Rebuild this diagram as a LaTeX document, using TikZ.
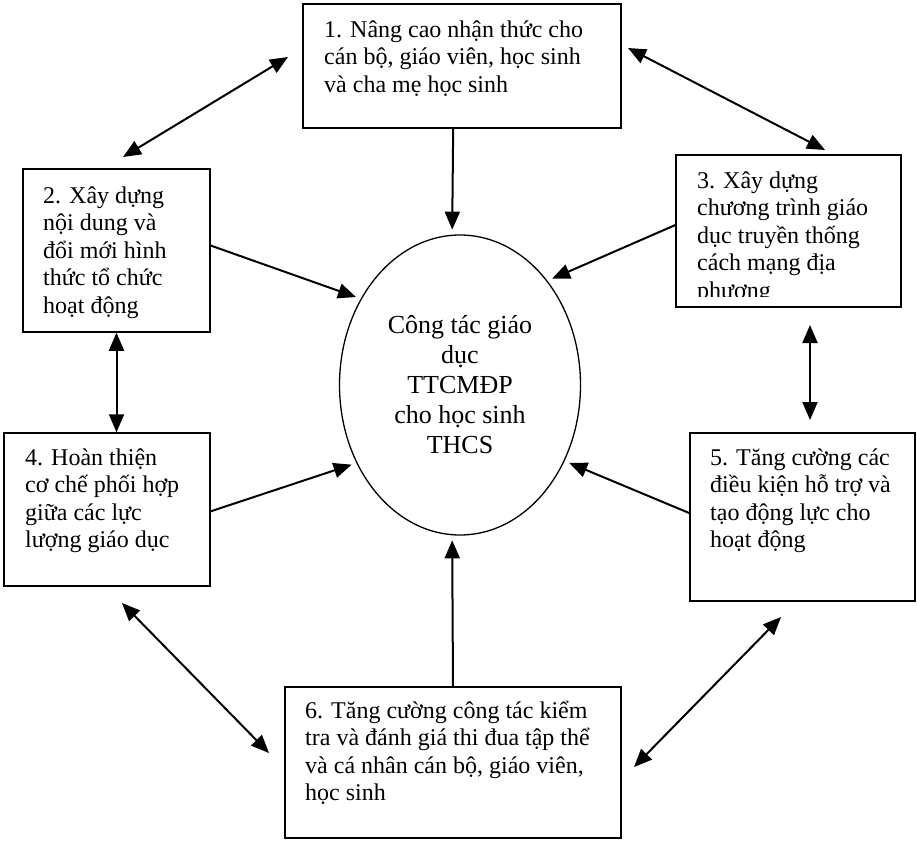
\documentclass[tikz,border=0pt]{standalone}
\usepackage{fontspec}
\setmainfont{Liberation Serif}
\usetikzlibrary{arrows.meta,shapes.geometric}

\begin{document}
\begin{tikzpicture}[x=1pt,y=-1pt,
	box/.style={draw,line width=1.5pt,inner sep=0pt},
	txt/.style={anchor=north west,inner sep=0pt,align=left,font=\fontsize{24}{27.5}\selectfont},
	flow/.style={line width=2pt,shorten >=5pt,-{Triangle[length=18pt,width=15pt]}},
	link/.style={line width=2pt,{Triangle[length=18pt,width=15pt]}-{Triangle[length=18pt,width=15pt]}}]
\useasboundingbox (0,0) rectangle (917,840);

% the six boxes
\node[box,minimum width=318pt,minimum height=124pt] (b1) at (462,66) {};
\node[box,minimum width=187pt,minimum height=163pt] (b2) at (116.5,250.5) {};
\node[box,minimum width=225pt,minimum height=152pt] (b3) at (788.5,231) {};
\node[box,minimum width=206pt,minimum height=153pt] (b4) at (107,509.5) {};
\node[box,minimum width=225pt,minimum height=168pt] (b5) at (802.5,517) {};
\node[box,minimum width=336pt,minimum height=151pt] (b6) at (453,762.5) {};

\node[txt] (t1) at (324,18) {\strut 1. Nâng cao nhận thức cho\\cán bộ, giáo viên, học sinh\\và cha mẹ học sinh};
\node[txt] (t2) at (43,184) {\strut 2. Xây dựng\\nội dung và\\đổi mới hình\\thức tổ chức\\hoạt động};
\begin{scope}
\clip (676,155) rectangle (901,296);
\node[txt] (t3) at (697,169) {\strut 3. Xây dựng\\chương trình giáo\\dục truyền thống\\cách mạng địa\\phương};
\end{scope}
\node[txt] (t4) at (25,446) {\strut 4. Hoàn thiện\\cơ chế phối hợp\\giữa các lực\\lượng giáo dục};
\node[txt] (t5) at (710,446) {\strut 5. Tăng cường các\\điều kiện hỗ trợ và\\tạo động lực cho\\hoạt động};
\node[txt] (t6) at (305,699) {\strut 6. Tăng cường công tác kiểm\\tra và đánh giá thi đua tập thể\\và cá nhân cán bộ, giáo viên,\\học sinh};

% centre
\node[draw,ellipse,line width=1.3pt,minimum width=241pt,minimum height=300pt,inner sep=0pt,
	align=center,font=\fontsize{26}{30}\selectfont] (core) at (460,385)
	{Công tác giáo\\dục\\TTCMĐP\\cho học sinh\\THCS};

% arrows into the centre
\draw[flow] (b1.-98) -- (core.93);
\draw[flow] (b2.3) -- (core.139);
\draw[flow] (b3.177) -- (core.50);
\draw[flow] (b4.-1) -- (core.217);
\draw[flow] (b5.178) -- (core.-36);
\draw[flow] (b6.north) -- (core.267);

% two-way arrows between the boxes
\coordinate (p12a) at (288,57);
\coordinate (p12b) at (123,157);
\coordinate (p13a) at (628,48);
\coordinate (p13b) at (825,150);
\coordinate (p35a) at (810,325);
\coordinate (p35b) at (810,420);
\coordinate (p46a) at (122,603);
\coordinate (p46b) at (269,753);
\coordinate (p56a) at (781,617);
\coordinate (p56b) at (634,767);
\draw[link] (p12a) -- (p12b);
\draw[link] (p13a) -- (p13b);
\draw[link] (b2.south) -- (b2.south |- b4.north);
\draw[link] (p35a) -- (p35b);
\draw[link] (p46a) -- (p46b);
\draw[link] (p56a) -- (p56b);
\end{tikzpicture}
\end{document}
